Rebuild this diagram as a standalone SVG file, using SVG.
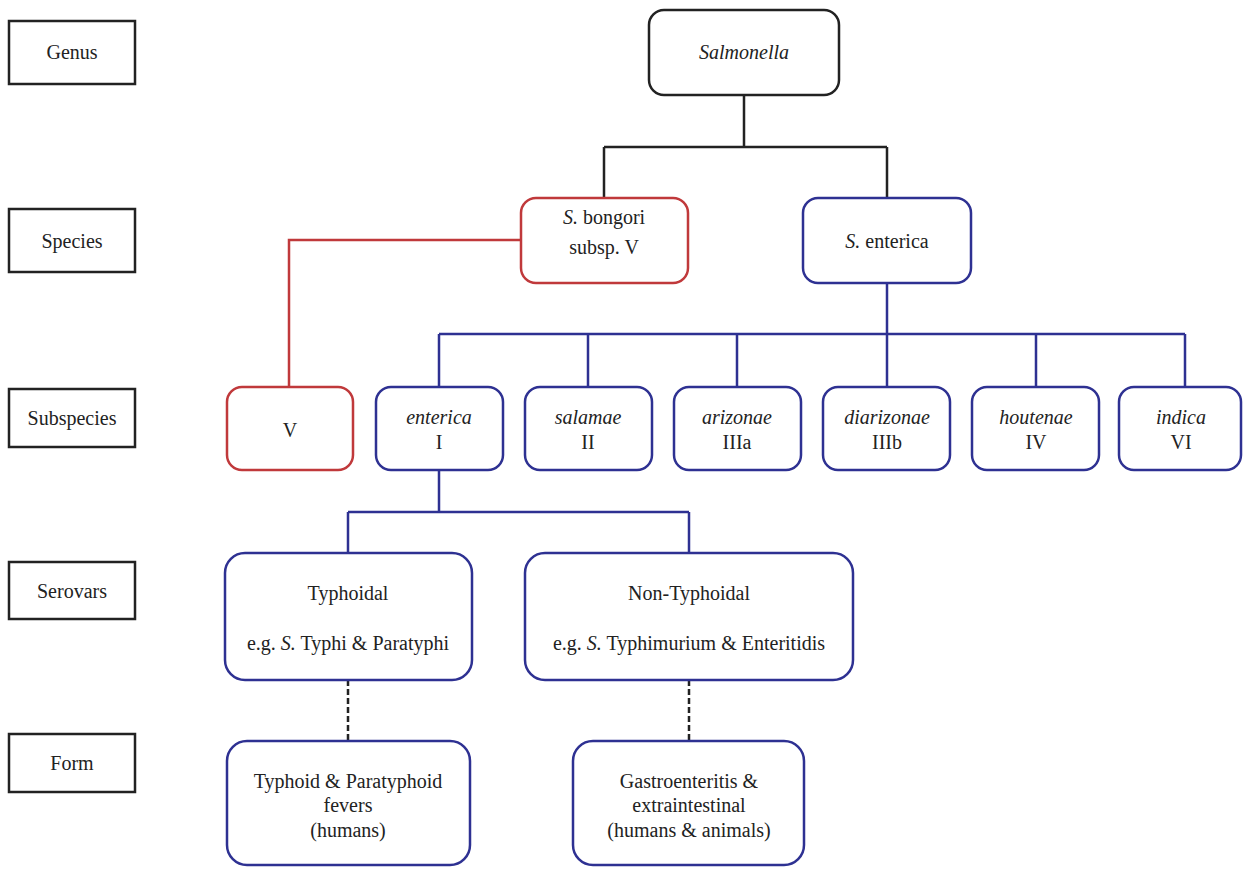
<svg xmlns="http://www.w3.org/2000/svg" width="1248" height="869" viewBox="0 0 1248 869">
<style>
text{font-size:20px;fill:#222;text-anchor:middle}
.i{font-style:italic}
.lab{fill:#fff;stroke:#222;stroke-width:2.5}
.blk{fill:#fff;stroke:#222;stroke-width:2.5}
.red{fill:#fff;stroke:#c0393b;stroke-width:2.5}
.blu{fill:#fff;stroke:#2e3192;stroke-width:2.5}
.cb{fill:none;stroke:#222;stroke-width:2.5}
.cr{fill:none;stroke:#c0393b;stroke-width:2.5}
.cu{fill:none;stroke:#2e3192;stroke-width:2.5}
.cd{fill:none;stroke:#222;stroke-width:2.5;stroke-dasharray:6 3}
</style>
<rect width="1248" height="869" fill="#fff"/>
<g id="connectors">
<path class="cb" d="M744 95V147M604 147H887M604 147V198M887 147V198"/>
<path class="cr" d="M521 240H289V387"/>
<path class="cu" d="M887 283V334M439 334H1185M439 334V387M588 334V387M737 334V387M887 334V387M1036 334V387M1185 334V387"/>
<path class="cu" d="M439 470V512M348 512H689M348 512V553M689 512V553"/>
<path class="cd" d="M348 680V741M689 680V741"/>
</g>
<g font-family="'Liberation Serif', 'Times New Roman', 'DejaVu Serif', serif">
<g id="label-genus"><rect class="lab" x="9" y="21" width="126" height="63"/><text x="72" y="59">Genus</text></g>
<g id="label-species"><rect class="lab" x="9" y="209" width="126" height="63"/><text x="72" y="248">Species</text></g>
<g id="label-subspecies"><rect class="lab" x="9" y="389" width="126" height="58"/><text x="72" y="425">Subspecies</text></g>
<g id="label-serovars"><rect class="lab" x="9" y="562" width="126" height="57"/><text x="72" y="598">Serovars</text></g>
<g id="label-form"><rect class="lab" x="9" y="734" width="126" height="58"/><text x="72" y="770">Form</text></g>
<g id="salmonella"><rect class="blk" x="649" y="10" width="190" height="85" rx="15"/><text class="i" x="744" y="59">Salmonella</text></g>
<g id="bongori"><rect class="red" x="521" y="198" width="167" height="85" rx="15"/><text x="604" y="224"><tspan class="i">S.</tspan> bongori</text><text x="604" y="254">subsp. V</text></g>
<g id="enterica-sp"><rect class="blu" x="803" y="198" width="168" height="85" rx="15"/><text x="887" y="248"><tspan class="i">S.</tspan> enterica</text></g>
<g id="sub-V"><rect class="red" x="227" y="387" width="126" height="83" rx="15"/><text x="290" y="437">V</text></g>
<g id="sub-I"><rect class="blu" x="376" y="387" width="127" height="83" rx="15"/><text class="i" x="439" y="424">enterica</text><text x="439" y="449">I</text></g>
<g id="sub-II"><rect class="blu" x="525" y="387" width="127" height="83" rx="15"/><text class="i" x="588" y="424">salamae</text><text x="588" y="449">II</text></g>
<g id="sub-IIIa"><rect class="blu" x="674" y="387" width="127" height="83" rx="15"/><text class="i" x="737" y="424">arizonae</text><text x="737" y="449">IIIa</text></g>
<g id="sub-IIIb"><rect class="blu" x="823" y="387" width="127" height="83" rx="15"/><text class="i" x="887" y="424">diarizonae</text><text x="887" y="449">IIIb</text></g>
<g id="sub-IV"><rect class="blu" x="972" y="387" width="127" height="83" rx="15"/><text class="i" x="1036" y="424">houtenae</text><text x="1036" y="449">IV</text></g>
<g id="sub-VI"><rect class="blu" x="1119" y="387" width="122" height="83" rx="15"/><text class="i" x="1181" y="424">indica</text><text x="1181" y="449">VI</text></g>
<g id="typhoidal"><rect class="blu" x="225" y="553" width="247" height="127" rx="20"/><text x="348" y="600">Typhoidal</text><text x="348" y="650">e.g. <tspan class="i">S.</tspan> Typhi &amp; Paratyphi</text></g>
<g id="nontyphoidal"><rect class="blu" x="525" y="553" width="328" height="127" rx="20"/><text x="689" y="600">Non-Typhoidal</text><text x="689" y="650">e.g. <tspan class="i">S.</tspan> Typhimurium &amp; Enteritidis</text></g>
<g id="form-typhoid"><rect class="blu" x="227" y="741" width="243" height="124" rx="20"/><text x="348" y="788">Typhoid &amp; Paratyphoid</text><text x="348" y="812">fevers</text><text x="348" y="837">(humans)</text></g>
<g id="form-gastro"><rect class="blu" x="573" y="741" width="231" height="124" rx="20"/><text x="689" y="788">Gastroenteritis &amp;</text><text x="689" y="812">extraintestinal</text><text x="689" y="837">(humans &amp; animals)</text></g>
</g>
</svg>
